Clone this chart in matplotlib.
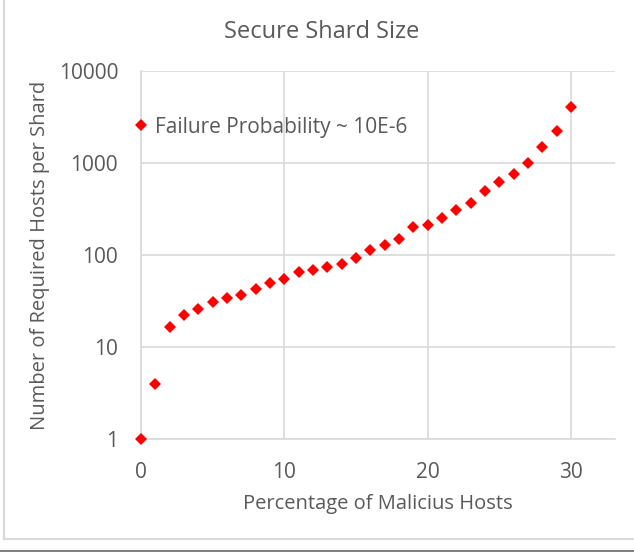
"""Secure shard size vs. share of malicious hosts (log scale)."""

import matplotlib
matplotlib.use("Agg")
import matplotlib.pyplot as plt
from matplotlib.lines import Line2D

pct_malicious = list(range(0, 31))
hosts_per_shard = [
    1, 4, 16.4, 22, 25.7, 30.7, 34.2, 36.5, 42.9, 49.8,
    55.5, 65, 69.5, 74.4, 80.8, 92.3, 112, 130, 151, 203,
    211, 254, 305, 366, 495, 615, 765, 990, 1490, 2245,
    4100,
]
y_ticks = [1, 10, 100, 1000, 10000]
x_ticks = [0, 10, 20, 30]

TEXT = "#595959"
GRID = "#d9d9d9"

plt.rcParams["font.family"] = ["Open Sans", "DejaVu Sans"]

fig = plt.figure(figsize=(6.34, 5.52), dpi=100)
ax = fig.add_axes([141 / 634, 1 - 439 / 552, 474 / 634, 368 / 552])

ax.plot(pct_malicious, hosts_per_shard, linestyle="none", marker="D",
        markersize=6.5, color="#ff0000", markeredgewidth=0,
        label="Failure Probability ~ 10E-6", clip_on=False, zorder=3)

ax.set_yscale("log")
ax.set_ylim(1, 10000)
ax.set_xlim(0, 474 / 14.33)
ax.set_yticks(y_ticks)
ax.set_yticklabels([str(v) for v in y_ticks])
ax.minorticks_off()
ax.set_xticks(x_ticks)
ax.tick_params(length=0, labelsize=15, colors=TEXT)
ax.tick_params(axis="y", pad=16.5)
ax.tick_params(axis="x", pad=16.5)
ax.grid(True, color=GRID, linewidth=1.2)
ax.set_axisbelow(True)
for side in ("top", "right"):
    ax.spines[side].set_visible(False)
for side in ("left", "bottom"):
    ax.spines[side].set_color(GRID)
    ax.spines[side].set_linewidth(1.2)

ax.set_xlabel("Percentage of Malicius Hosts", fontsize=14.5, color=TEXT)
ax.set_ylabel("Number of Required Hosts per Shard", fontsize=14.5, color=TEXT)
ax.xaxis.set_label_coords(0.5, -(504 - 439) / 368, transform=ax.transAxes)
ax.yaxis.set_label_coords(-(141 - 40) / 474, 0.5, transform=ax.transAxes)
ax.xaxis.label.set_va("center")
ax.yaxis.label.set_va("center")

fig.text(322 / 634, 1 - 32 / 552, "Secure Shard Size", ha="center",
         va="center", fontsize=17, color=TEXT)

leg = ax.legend(loc="center left", bbox_to_anchor=(135 / 634, 1 - 127 / 552),
                bbox_transform=fig.transFigure, frameon=False, fontsize=15,
                borderpad=0, borderaxespad=0, handlelength=0.6,
                handletextpad=0.35, labelcolor=TEXT)

# chart frame like the office export
fig.add_artist(Line2D([3.5 / 634, 3.5 / 634], [1 - 539 / 552, 1],
                      transform=fig.transFigure, color=GRID, linewidth=1.5))
fig.add_artist(Line2D([3.5 / 634, 1], [1 - 539 / 552, 1 - 539 / 552],
                      transform=fig.transFigure, color=GRID, linewidth=1.5))
fig.add_artist(Line2D([0, 1], [1 - 551 / 552, 1 - 551 / 552],
                      transform=fig.transFigure, color="#7f7f7f", linewidth=1.5))

fig.savefig("out.png", dpi=100)
